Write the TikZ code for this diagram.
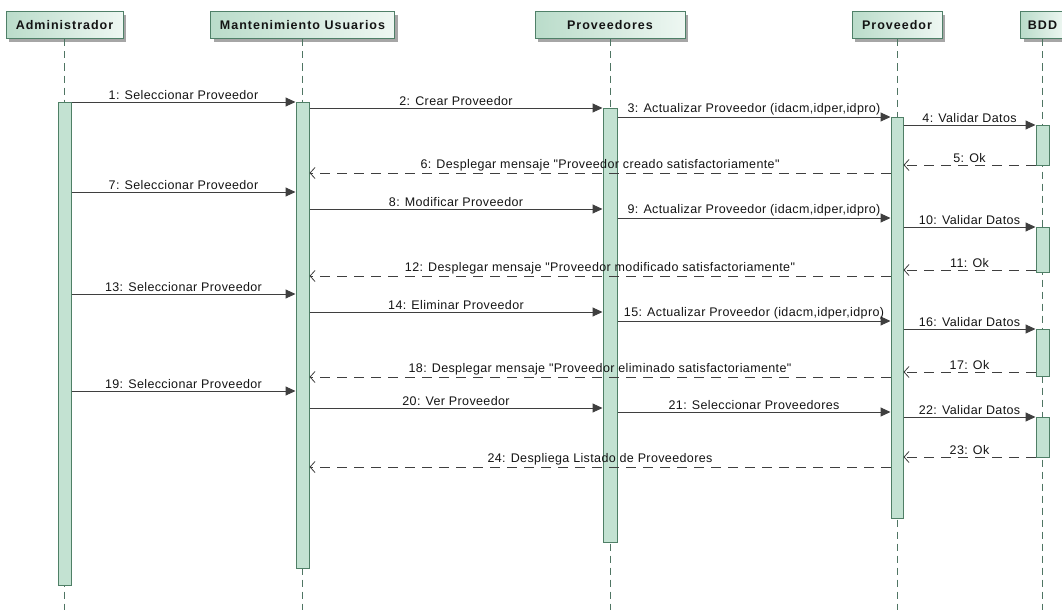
\documentclass[tikz,border=0pt]{standalone}
\usepackage{fontspec}
\setmainfont{Liberation Sans}
\newfontfamily\lblfont[LetterSpace=3]{Liberation Sans}
\newfontfamily\hdrfont[LetterSpace=8]{Liberation Sans}
\usetikzlibrary{arrows.meta,shadows}
\definecolor{hdrline}{HTML}{4F8068}
\definecolor{hdrL}{HTML}{BADCCA}
\definecolor{hdrR}{HTML}{EEF7F2}
\definecolor{actfill}{HTML}{C3E2D2}
\definecolor{actline}{HTML}{4F7F66}
\definecolor{lifec}{HTML}{4F7563}
\definecolor{msgc}{HTML}{3F3F3F}
\definecolor{txt}{HTML}{141414}
\tikzset{
  hdr/.style={draw=hdrline, line width=1pt, left color=hdrL, right color=hdrR,
    minimum height=27pt, inner sep=0pt, text=txt,
    font=\hdrfont\bfseries\fontsize{12.5}{14}\selectfont,
    drop shadow={shadow xshift=3pt, shadow yshift=-3pt, fill=black, opacity=0.35}},
  life/.style={draw=lifec, line width=0.8pt, dash pattern=on 7pt off 5pt},
  act/.style={draw=actline, fill=actfill, line width=1pt, minimum width=13pt,
    inner sep=0pt, anchor=north},
  call/.style={draw=msgc, line width=1pt, -{Triangle[length=10pt,width=9pt]}},
  ret/.style={draw=msgc, line width=1pt, dash pattern=on 10pt off 7pt,
    -{Straight Barb[length=5pt,width=11pt,line width=0.8pt]}},
  lbl/.style={above, inner sep=1.5pt, text=txt, font=\lblfont\fontsize{12.5}{14}\selectfont}
}
\begin{document}
\begin{tikzpicture}[x=1pt,y=-1pt]
\useasboundingbox (0,0) rectangle (1062,610);
% headers
\node[hdr, minimum width=117pt] (hAdm) at (64.5,25.5) {Administrador};
\node[hdr, minimum width=184pt] (hMan) at (302.5,25.5) {Mantenimiento Usuarios};
\node[hdr, minimum width=150pt] (hPrs) at (610,25.5) {Proveedores};
\node[hdr, minimum width=90pt] (hPr) at (897,25.5) {Proveedor};
\node[hdr, minimum width=44pt] (hB) at (1042.5,25.5) {BDD};
% lifelines
\foreach \h in {hAdm,hMan,hPrs,hPr,hB}{
  \draw[life] (\h.south) -- (\h.south |- 0,610);
}
% activations
\node[act, minimum height=483pt] (aAdm) at (64.5,102) {};
\node[act, minimum height=466pt] (aMan) at (302.5,102) {};
\node[act, minimum width=14pt, minimum height=434pt] (aPrs) at (610,108) {};
\node[act, minimum width=12pt, minimum height=401pt] (aPr) at (897,117) {};
\node[act, minimum height=40pt] (aB1) at (1042.5,125) {};
\node[act, minimum height=45pt] (aB2) at (1042.5,227) {};
\node[act, minimum height=47pt] (aB3) at (1042.5,329) {};
\node[act, minimum height=40pt] (aB4) at (1042.5,417) {};
% block 1
\draw[call] (aAdm.east |- 0,102) -- node[lbl]{1: Seleccionar Proveedor} (aMan.west |- 0,102);
\draw[call] (aMan.east |- 0,108) -- node[lbl]{2: Crear Proveedor} (aPrs.west |- 0,108);
\draw[call] (aPrs.east |- 0,117) -- node[lbl]{3: Actualizar Proveedor (idacm,idper,idpro)} (aPr.west |- 0,117);
\draw[call] (aPr.east |- 0,125) -- node[lbl]{4: Validar Datos} (aB1.west |- 0,125);
\draw[ret] (aB1.west |- 0,165) -- node[lbl]{5: Ok} (aPr.east |- 0,165);
\draw[ret] (aPr.west |- 0,173) -- node[lbl]{6: Desplegar mensaje "Proveedor creado satisfactoriamente"} (aMan.east |- 0,173);
% block 2
\draw[call] (aAdm.east |- 0,192) -- node[lbl]{7: Seleccionar Proveedor} (aMan.west |- 0,192);
\draw[call] (aMan.east |- 0,209) -- node[lbl]{8: Modificar Proveedor} (aPrs.west |- 0,209);
\draw[call] (aPrs.east |- 0,218) -- node[lbl]{9: Actualizar Proveedor (idacm,idper,idpro)} (aPr.west |- 0,218);
\draw[call] (aPr.east |- 0,227) -- node[lbl]{10: Validar Datos} (aB2.west |- 0,227);
\draw[ret] (aB2.west |- 0,270) -- node[lbl]{11: Ok} (aPr.east |- 0,270);
\draw[ret] (aPr.west |- 0,276) -- node[lbl]{12: Desplegar mensaje "Proveedor modificado satisfactoriamente"} (aMan.east |- 0,276);
% block 3
\draw[call] (aAdm.east |- 0,294) -- node[lbl]{13: Seleccionar Proveedor} (aMan.west |- 0,294);
\draw[call] (aMan.east |- 0,312) -- node[lbl]{14: Eliminar Proveedor} (aPrs.west |- 0,312);
\draw[call] (aPrs.east |- 0,321) -- node[lbl]{15: Actualizar Proveedor (idacm,idper,idpro)} (aPr.west |- 0,321);
\draw[call] (aPr.east |- 0,329) -- node[lbl]{16: Validar Datos} (aB3.west |- 0,329);
\draw[ret] (aB3.west |- 0,372) -- node[lbl]{17: Ok} (aPr.east |- 0,372);
\draw[ret] (aPr.west |- 0,377) -- node[lbl]{18: Desplegar mensaje "Proveedor eliminado satisfactoriamente"} (aMan.east |- 0,377);
% block 4
\draw[call] (aAdm.east |- 0,391) -- node[lbl]{19: Seleccionar Proveedor} (aMan.west |- 0,391);
\draw[call] (aMan.east |- 0,408) -- node[lbl]{20: Ver Proveedor} (aPrs.west |- 0,408);
\draw[call] (aPrs.east |- 0,412) -- node[lbl]{21: Seleccionar Proveedores} (aPr.west |- 0,412);
\draw[call] (aPr.east |- 0,417) -- node[lbl]{22: Validar Datos} (aB4.west |- 0,417);
\draw[ret] (aB4.west |- 0,457) -- node[lbl]{23: Ok} (aPr.east |- 0,457);
\draw[ret] (aPr.west |- 0,467) -- node[lbl]{24: Despliega Listado de Proveedores} (aMan.east |- 0,467);
\end{tikzpicture}
\end{document}
